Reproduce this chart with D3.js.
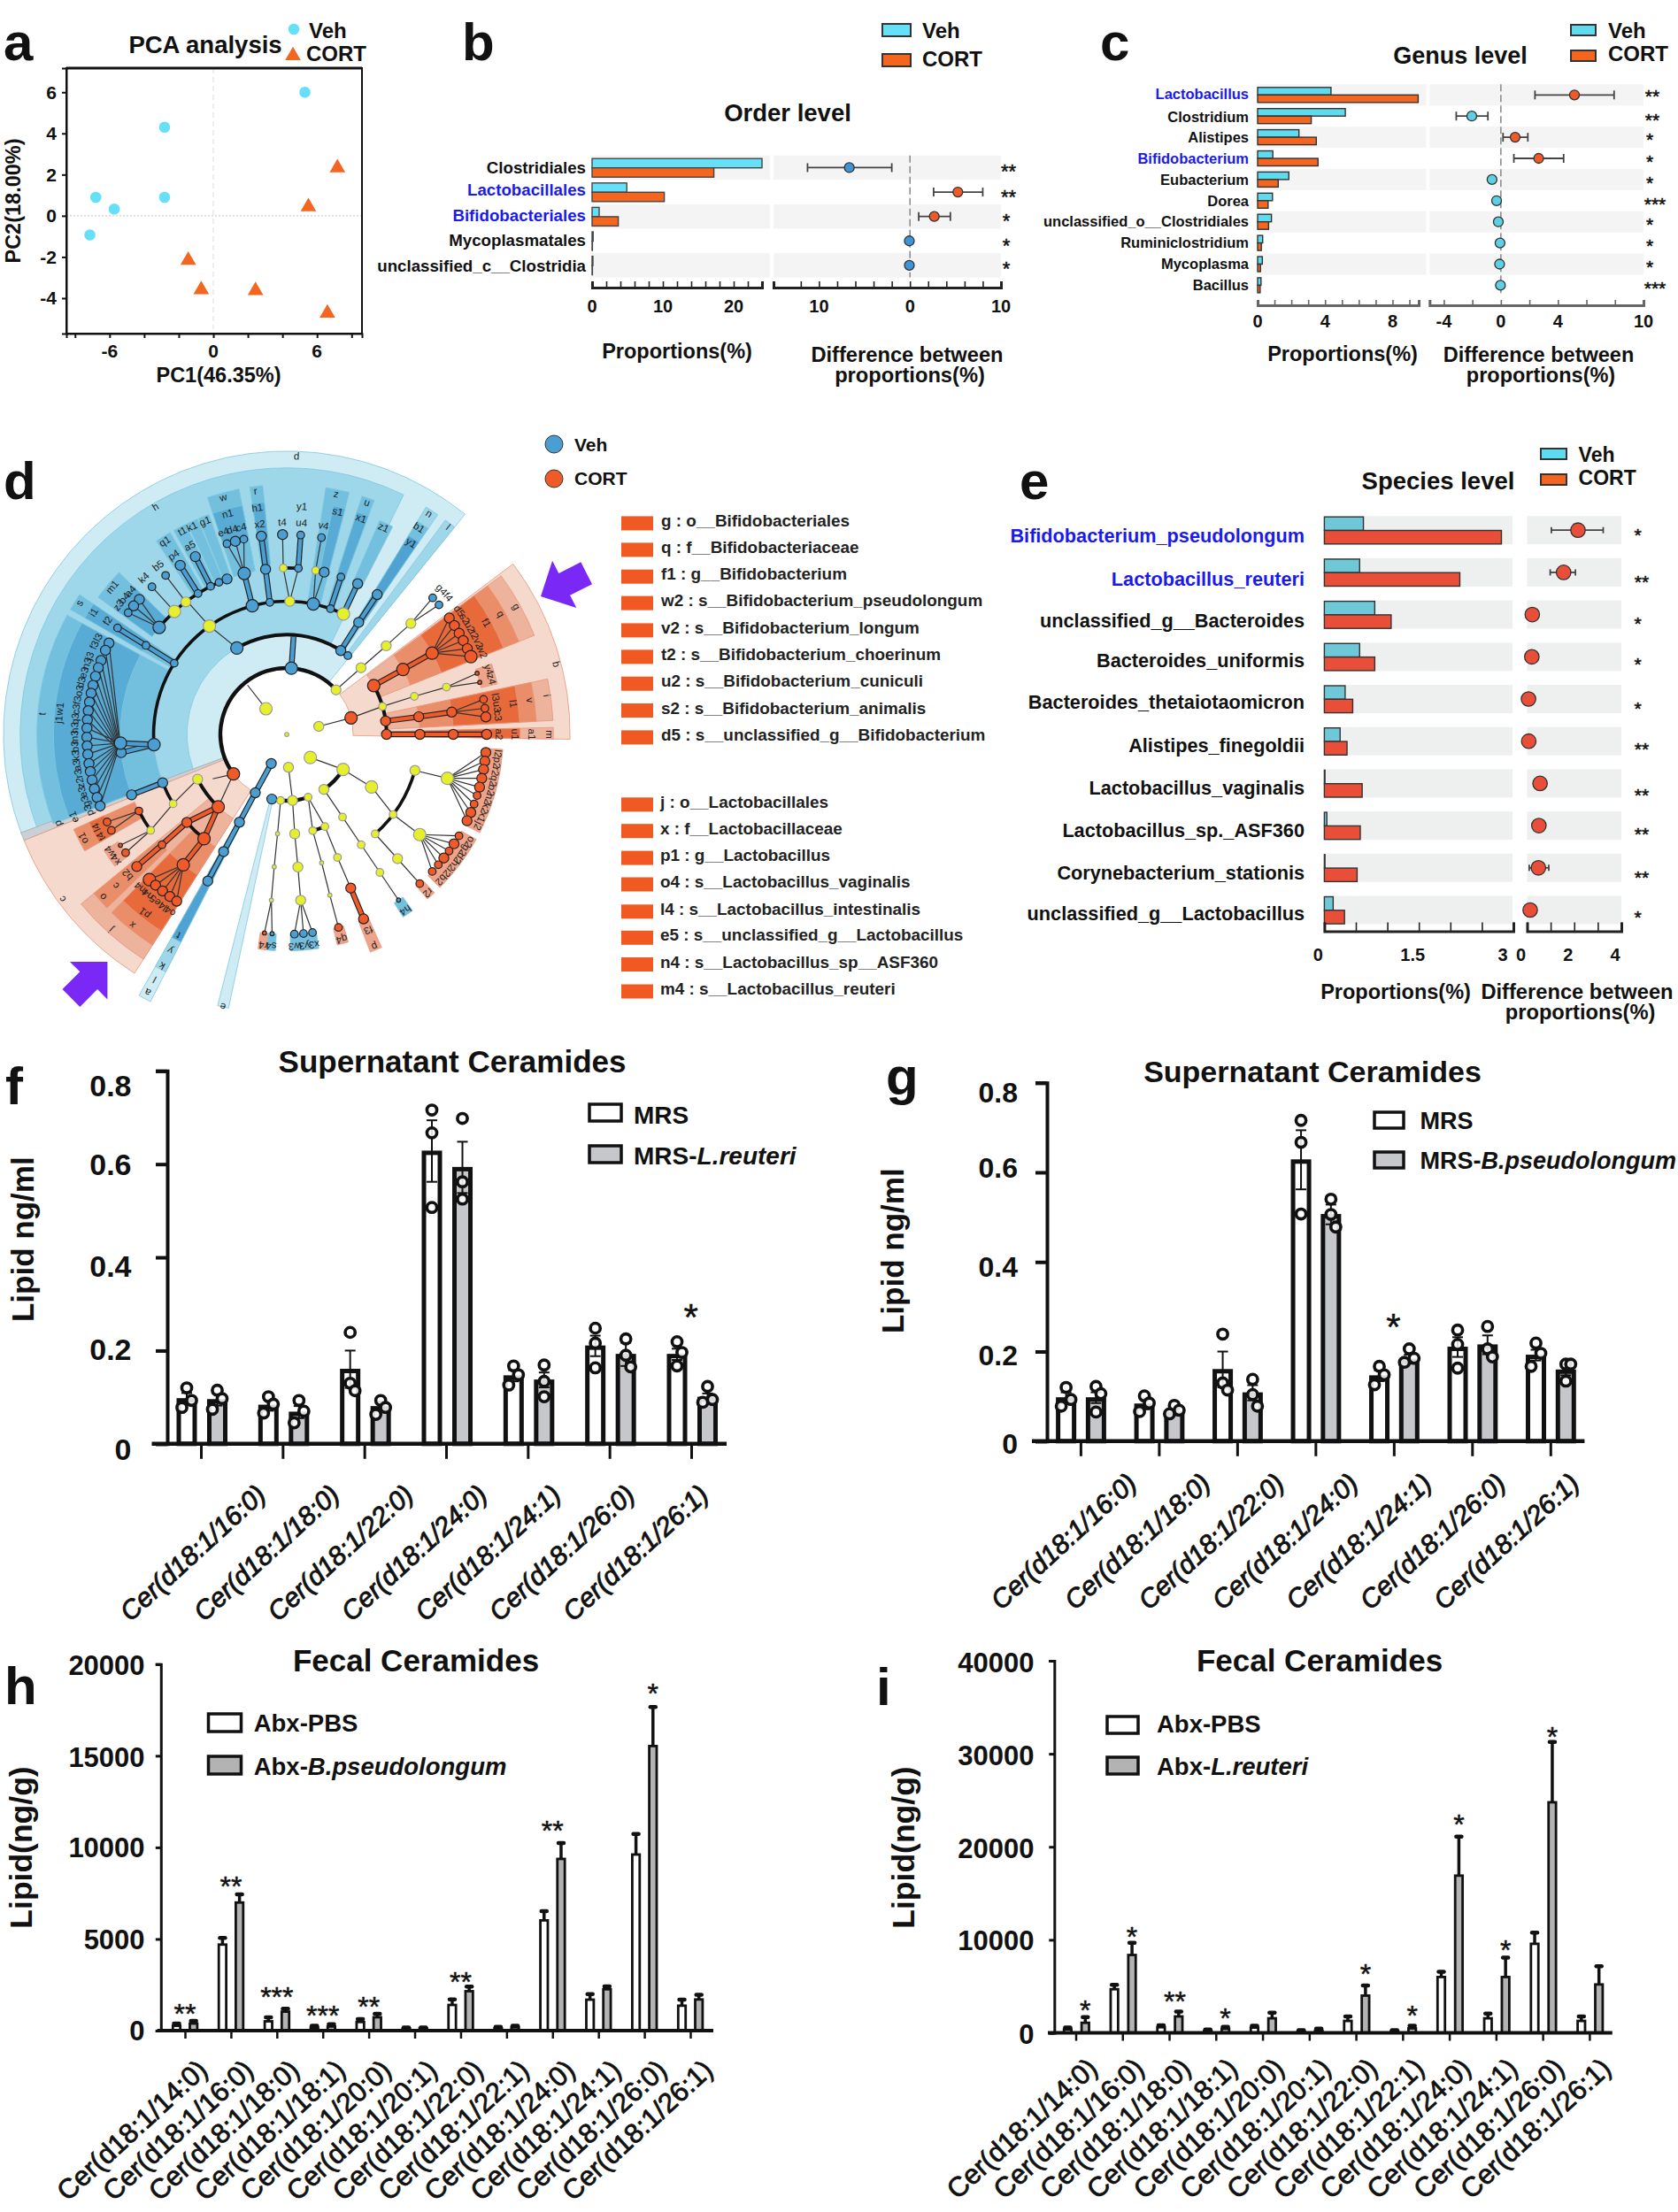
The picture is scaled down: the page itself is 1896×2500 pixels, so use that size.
<!DOCTYPE html>
<html><head><meta charset="utf-8">
<script src="https://cdn.jsdelivr.net/npm/d3@7/dist/d3.min.js"></script>
<style>html,body{margin:0;padding:0;background:#fff}svg{display:block}text{font-family:"Liberation Sans",Arial,sans-serif;font-weight:bold;fill:#111}</style>
</head><body><script>
// ---------- panel a ----------
const pcaVeh = [[5.3,6.0],[-2.82,4.3],[-6.8,0.9],[-2.82,0.9],[-5.73,0.33],[-7.14,-0.93]];
const pcaCort = [[7.18,2.33],[5.5,0.44],[-1.45,-2.16],[-0.7,-3.59],[2.44,-3.63],[6.6,-4.73]];
// ---------- panel b ----------
const orderNames = ["Clostridiales","Lactobacillales","Bifidobacteriales","Mycoplasmatales","unclassified_c__Clostridia"];
const orderVeh = [24,4.9,1.0,0.15,0.12];
const orderCort = [17.2,10.2,3.7,0.05,0.05];
const orderDiff = [-6.67,5.26,2.67,-0.07,-0.07];
const orderLo = [-11.26,2.6,0.96,-0.12,-0.12];
const orderHi = [-2,8,4.44,-0.02,-0.02];
const orderSig = ["**","**","*","*","*"];
const orderBlue = ["Lactobacillales","Bifidobacteriales"];
// ---------- panel c ----------
const genusNames = ["Lactobacillus","Clostridium","Alistipes","Bifidobacterium","Eubacterium","Dorea","unclassified_o__Clostridiales","Ruminiclostridium","Mycoplasma","Bacillus"];
const genusVeh = [4.35,5.2,2.45,0.9,1.85,0.88,0.82,0.3,0.28,0.2];
const genusCort = [9.52,3.18,3.48,3.58,1.22,0.62,0.65,0.22,0.17,0.15];
const genusDiff = [5.16,-2.04,1.0,2.65,-0.62,-0.3,-0.18,-0.06,-0.09,-0.03];
const genusLo = [2.39,-3.13,0.15,0.91,-0.77,-0.42,-0.28,-0.1,-0.13,-0.06];
const genusHi = [7.94,-0.91,1.89,4.4,-0.47,-0.18,-0.08,-0.02,-0.05,0];
const genusSig = ["**","**","*","*","*","***","*","*","*","***"];
const genusBlue = ["Lactobacillus","Bifidobacterium"];
// ---------- panel e ----------
const speciesNames = ["Bifidobacterium_pseudolongum","Lactobacillus_reuteri","unclassified_g__Bacteroides","Bacteroides_uniformis","Bacteroides_thetaiotaomicron","Alistipes_finegoldii","Lactobacillus_vaginalis","Lactobacillus_sp._ASF360","Corynebacterium_stationis","unclassified_g__Lactobacillus"];
const speciesVeh = [0.62,0.56,0.8,0.56,0.33,0.25,0.01,0.04,0.01,0.14];
const speciesCort = [2.81,2.15,1.06,0.8,0.45,0.36,0.6,0.57,0.52,0.32];
const speciesDiff = [2.16,1.55,0.22,0.2,0.06,0.07,0.55,0.5,0.48,0.13];
const speciesLo = [1.03,0.98,0.2,0.18,0.04,0.05,0.52,0.47,0.09,0.11];
const speciesHi = [3.23,2.05,0.24,0.22,0.08,0.09,0.58,0.53,0.92,0.15];
const speciesSig = ["*","**","*","*","*","**","**","**","**","*"];
const speciesBlue = ["Bifidobacterium_pseudolongum","Lactobacillus_reuteri"];
// ---------- panel d legend ----------
const taxaBifido = ["g : o__Bifidobacteriales","q : f__Bifidobacteriaceae","f1 : g__Bifidobacterium","w2 : s__Bifidobacterium_pseudolongum","v2 : s__Bifidobacterium_longum","t2 : s__Bifidobacterium_choerinum","u2 : s__Bifidobacterium_cuniculi","s2 : s__Bifidobacterium_animalis","d5 : s__unclassified_g__Bifidobacterium"];
const taxaLacto = ["j : o__Lactobacillales","x : f__Lactobacillaceae","p1 : g__Lactobacillus","o4 : s__Lactobacillus_vaginalis","l4 : s__Lactobacillus_intestinalis","e5 : s__unclassified_g__Lactobacillus","n4 : s__Lactobacillus_sp__ASF360","m4 : s__Lactobacillus_reuteri"];
// ---------- panel d cladogram: [shade, angle from, angle to, depth from, depth to] ----------
const cladeWedges = [
["b0",-110.5,39,1,7.5],["b1",-110.5,26,2,7],["g",-112,-110.3,1,7.5],["o0",-147.5,-112,1,7.5],["o0",53,91,1,7.5],
["b2",-111,-61.5,3,6.5],["b3",-111,-61.5,4,6],["b2",-60,-56,3,6.5],["b3",-60,-56,4,6],
["b2",-54,-46,4,6],["b3",-54,-46,4,5.4],["b2",-34,-30,4,6],["b2",-29,-25.7,4,6],["b2",-25.3,-22.5,4,6],["b2",-22.2,-19.5,4,6],
["b2",-18.5,-11,4,6.5],["b3",-18.5,-11,4,6],["b2",-18.5,-11,4,5],
["b2",-8.5,-5.5,4,6.5],["b3",-8.5,-5.5,4,6],["b2",9,14.5,3,6.5],["b3",11.5,14.5,4,6],["b2",17.5,20.5,3,6.5],["b3",17.5,20.5,4,6],["b2",23.5,27,4,6],
["b1",31.5,34.5,2,7],["b2",31.5,34.5,3,6.5],["b4",31.5,34.5,3,6],["b1",36.5,39,2,7],
["o1",53.5,68.2,2,7],["o2",53.5,68.2,3,6.5],["o3",53.5,68.2,4,6],["o4",71,76.5,5,5.5],
["o1",78,87,2,7],["o2",78,87,3,6.5],["o3",78,87,4,6],["o1",88.5,91,2,7],["o3",88.5,91,2,6],
["o4",94,117,5,5.5],["o4",119,135,5,5.5],["o4",137,139.5,5,5.5],["o4",163.5,166.5,5,5.5],["o4",156,159,5,6],["b2",144.5,147.5,5,5.5],
["o4",-174.7,-172.4,5,5.5],["b2",-177,-174.7,5,5.5],["b2",171.5,179,5,5.5],
["o1",-147.5,-129.5,2,7],["o2",-147.5,-135.5,3,6.5],["o3",-147.5,-135.5,4,6],["o2",-134,-129.5,4,6.5],
["o2",-120,-114,4,6],["o3",-120,-114,5,5.5],["o4",-127.5,-122.5,5,5.5],
["b0",-153,-150.5,0,8],["b1",-153,-150.5,0,7],["b4",-153,-150.5,0,6],["b0",-168,-165.7,1,7.4]
];
// [depth, angle from, angle to]
const cladeArcs = [[1,-126.6,47.9],[1,121.9,146],[1,161.2,193],[2,-30,37.8],[2,60.7,90],[2,-136.6,-116.7],[2,157.5,164.9],
[3,-94.4,25.2],[3,105.7,138.4],[3,-131.4,-141.6],[3,-121.4,-111.3],[4,-50,-21],[4,-1.2,4],[4,-117.4,-125.2],[4,10,13]];
// [id, parent, angle, depth, size class, group, link type, label]
const cladeNodes = [
["root",null,0,-0.99,"X","y"],
["a0",null,-39,0,"L","y"],["a0p","a0",-38.5,0.9,"0","y"],["a1",null,76,0,"M","y"],["a2",null,177,0,"M","y"],["a3",null,134.5,0,"L","y"],["a4",null,-152,0,"M","b"],
["B",null,4,1,"L","b"],["C","a1",75.6,1,"L","o"],["D",null,47.9,1,"M","y"],["E",null,-126.6,1,"L","o"],
["F","a3",121.9,1,"L","y"],["G",null,146,1,"M","y"],
["S1","a4",-151.7,1,"M","b","b"],["S2","S1",-151.7,2,"M","b","b"],["S3","S2",-151.7,3,"M","b","b"],["S4","S3",-151.7,4,"M","b","b"],
["H","a2",175,1,"M","y"],["I",null,-167,1,"M","b"],["J",null,-174.7,1,"S","y"],["K",null,161.2,1,"S","y"],
["Bp","B",4,1.95,"0","b","b"],["L2a",null,-30,2,"L","b"],["L2b",null,32.8,2,"M","b"],["L2c",null,37.8,2,"S","b"],
["D2","D",48.1,2,"M","y"],["D3","D2",48.3,3,"M","y"],["D4","D3",48.2,4,"M","y"],["n1","D4",46.9,5,"S","b",0,"g4"],["n2","D4",49.6,5,"S","b",0,"f4"],
["C2a",null,60.7,2,"L","o"],["C2b","C",73.7,2,"S","y"],["C2c",null,82.3,2,"M","o"],["C2d",null,90,2,"M","o"],
["C3a","C2a",60.8,3,"L","o","o"],["C4a","C3a",60.8,4,"L","o","o"],
["n3","C4a",54.4,5,"M","o",0,"d5"],["n4","C4a",57,5,"M","o",0,"s2"],["n5","C4a",59.6,5,"M","o",0,"u2"],["n6","C4a",62,5,"M","o",0,"t2"],["n7","C4a",64.6,5,"M","o",0,"v2"],["n8","C4a",67.1,5,"L","o",0,"w2"],
["C3b","C2b",73.4,3,"S","y"],["C4b","C3b",73.5,4,"S","y"],["n9","C4b",72.2,5,"X","o",0,"y4"],["n10","C4b",74.9,5,"X","o",0,"z4"],
["C3c","C2c",82.4,3,"M","o","o"],["C4c","C3c",82.3,4,"M","o","o"],["n11","C4c",79.9,5,"S","o",0,"l3"],["n12","C4c",82.5,5,"S","o",0,"u3"],["n13","C4c",85,5,"M","o",0,"c3"],
["C3d","C2d",90,3,"M","o","o"],["C4d","C3d",90,4,"M","o","o"],["C5d","C4d",90,5,"M","o","o","a2"],
["L3a",null,-94.4,3,"L","b"],["L3b",null,-57.7,3,"S","b"],["L3c",null,-35.5,3,"L","y"],["L3d",null,-15,3,"L","b"],["L3e",null,-7.3,3,"S","b"],["L3f",null,1.3,3,"M","y"],["L3g",null,11.5,3,"L","b"],["L3h",null,19.2,3,"S","b"],["L3i",null,25.2,3,"L","y"],
["Lz","L3c",-35.5,3,"0","y"],["Lzz","L2a",-35.5,3,"0","y"],
["m3","L2b",32.7,3,"M","b","b"],["m4","m3",32.9,4,"M","b","b"],
["T1","L3a",-96.3,4,"M","b","b"],["T2","L3a",-93,4,"L","b","b"],
["t1","T1",-62.8,5,"M","b",0,"l3"],["t2","T1",-65.1,5,"M","b",0,"f3"],["t3","T1",-68.3,5,"M","b",0,"j3"],["t4","T1",-70.5,5,"M","b",0,"n3"],["t5","T1",-73.1,5,"M","b",0,"e3"],["t6","T1",-75.8,5,"M","b",0,"d3"],["t7","T1",-78.1,5,"M","b",0,"o3"],["t8","T1",-80.7,5,"M","b",0,"f3"],["t9","T1",-83.2,5,"M","b",0,"c3"],["t10","T1",-85.8,5,"M","b",0,"q3"],
["t11","T2",-88.2,5,"M","b",0,"h3"],["t12","T2",-90.8,5,"M","b",0,"m3"],["t13","T2",-93.3,5,"M","b",0,"b3"],["t14","T2",-95.7,5,"M","b",0,"k3"],["t15","T2",-98.4,5,"M","b",0,"a3"],["t16","T2",-100.7,5,"M","b",0,"r3"],["t17","T2",-103.2,5,"M","b",0,"z2"],["t18","T2",-105.8,5,"M","b",0,"e3"],["t19","T2",-108.4,5,"M","b",0,"g3"],["t20","T2",-111,5,"M","b",0,"p3"],
["s4","L3b",-57.7,4,"S","b","b"],["s5","s4",-57.8,5,"S","b","b"],
["L4a",null,-37.3,4,"M","y"],["L4b",null,-42.4,4,"L","y"],["L4c",null,-50,4,"L","b"],["L4d",null,-32.2,4,"S","b"],["L4e",null,-27.2,4,"S","b"],["L4f",null,-24,4,"S","b"],["L4g",null,-21,4,"M","b"],["Lq","L3c",-36.8,4,"0","y"],
["u1","L4b",-42.4,5,"S","b",0,"k4"],["u2","L4a",-37.3,5,"S","b",0,"b5"],["u3","L4d",-32.2,5,"M","b","b","p4"],["u4","L4e",-27.2,5,"M","b","b","a5"],
["u5","L4c",-47.5,5,"M","b",0,"a4"],["u6","L4c",-50,5,"M","b",0,"b4"],["u7","L4c",-52.5,5,"S","b",0,"z3"],
["w0","L3d",-14.8,4,"L","b","b"],["w1","w0",-17.4,5,"S","b",0,"e4"],["w2","w0",-14.9,5,"M","b",0,"d4"],["w3","w0",-12.4,5,"S","b",0,"c4"],
["x0","L3e",-7.3,4,"M","b","b"],["x1","x0",-7.3,5,"M","b","b","x2"],
["y0","L3f",-1.2,4,"S","y"],["y2","L3f",4,4,"S","b"],["y3","y0",-1.2,5,"M","b",0,"t4"],["y4","y2",4,5,"S","b","b","u4"],
["z0","L3g",10,4,"S","y"],["z2","L3g",13,4,"M","b"],["z3","z0",10,5,"S","b",0,"v4"],
["v1","L3h",19,4,"S","b","b"],["v2","L3i",25.2,4,"M","b","b"],
["p0","L3b",-57.7,3,"0","b"],
["lb1",null,-111.3,3,"M","b"],["lb2","lb1",-111.3,4,"M","b","b"],["ly1",null,-121.4,3,"S","y"],["ly2","ly1",-125.2,4,"S","y"],["ly0",null,-116.7,2,"M","y"],["ly0p","E",-121,1.6,"0","y"],["ly00","ly0",-121.4,3,"0","y"],
["E2","E",-136.6,2,"L","o"],["E3a","E2",-131.4,3,"M","o","o"],["E3b","E2",-141.6,3,"L","o","o"],["E4a","E3a",-131.5,4,"S","o","o"],["E5a","E4a",-131.4,5,"M","o","o","b2"],
["E4b","E3b",-141.6,4,"L","o","o"],
["e1","E4b",-136.6,5,"L","o",0,"m4"],["e2","E4b",-139,5,"M","o",0,"n4"],["e3","E4b",-141.6,5,"M","o",0,"e5"],["e4","E4b",-144.2,5,"M","o",0,"l4"],["e5","E4b",-146.6,5,"M","o",0,"o4"],
["o4x",null,-117.4,4,"S","o"],["o1x","o4x",-116,5,"S","o",0,"l4"],["o2x","o4x",-118.7,5,"S","o",0,"t4"],["o3x","ly2",-126.3,5,"S","o",0,"x4"],["o5x","ly2",-123.7,5,"X","o",0,"w4"],
["F2","F",121.8,2,"L","y"],["F3a","F2",127,3,"S","y"],["F3b",null,105.7,3,"M","y"],["F3c",null,138.4,3,"S","y"],
["F4a","F3b",105.3,4,"L","y"],
["g1","F4a",95.2,5,"M","o",0,"l2"],["g2","F4a",97.7,5,"M","o",0,"p2"],["g3","F4a",100.1,5,"M","o",0,"r2"],["g4","F4a",102.7,5,"M","o",0,"q2"],["g5","F4a",105.3,5,"M","o",0,"o2"],["g6","F4a",107.8,5,"S","o",0,"n2"],["g7","F4a",110.4,5,"S","o",0,"k2"],["g8","F4a",113,5,"M","o",0,"x1"],["g9","F4a",115.6,5,"M","o",0,"j2"],
["F4b","F3a",127,4,"L","y"],
["h1","F4b",120.5,5,"S","o",0,"o2"],["h2","F4b",123.2,5,"M","o",0,"g2"],["h3","F4b",125.7,5,"S","o",0,"d2"],["h4","F4b",128.2,5,"M","o",0,"h2"],["h5","F4b",130.7,5,"S","o",0,"i2"],["h6","F4b",133.3,5,"S","o",0,"b2"],
["F4c","F3c",138.3,4,"M","y"],["F5c","F4c",138.3,5,"S","o",0,"r2"],
["G2","G",146,2,"S","y"],["G3","G2",146,3,"S","y"],["G4","G3",146,4,"S","y"],["G5","G4",146,5,"X","b",0,"h4"],
["J2","J",-174.7,2,"X","y"],["J3","J2",-174.6,3,"X","y"],["J4","J3",-174.7,4,"X","y"],["J5","J4",-173.6,5,"X","o",0,"r4"],["J6","J4",-175.8,5,"X","b",0,"s4"],
["H2","H",175.4,2,"M","y"],["H3","H2",175.2,3,"M","y"],["H4","H3",175.2,4,"M","y"],["H5","H4",177.8,5,"S","b",0,"w3"],["H6","H4",175.2,5,"S","b",0,"y3"],["H7","H4",172.6,5,"S","b",0,"x3"],
["K2","K",164.9,2,"S","y"],["K2b","K",157.5,2,"S","y"],["K3","K2",164.8,3,"X","y"],["K4","K3",165,4,"X","y"],["K5","K4",165,5,"S","o",0,"q4"],
["K3b","K2b",157.6,3,"S","y"],["K4b","K3b",157.4,4,"M","o"],["K5b","K4b",157.4,5,"M","o","o","f3"]
];
// [text, angle, depth]
const cladeLabels = [["d",2,7.36],["h",-30,6.89],["b",75.4,7.36],["c",-126.3,7.36],["g",60.9,6.89],["q",60.6,6.37],["f1",60.8,5.86],
["t",-85.2,6.37],["j1",-86.3,5.86],["w1",-83.6,5.86],["p",-111.3,6.37],["e1",-111.2,5.86],["s",-57.6,6.37],["i1",-57.7,5.86],["f2",-57.6,5.37],["m1",-49.8,5.86],
["q1",-32.3,5.86],["t1",-27.2,5.86],["k1",-24.5,5.86],["g1",-21,5.86],["w",-15,6.37],["n1",-15,5.86],["r",-7.3,6.37],["h1",-7.4,5.86],["y1",3.8,5.86],
["z",11.6,6.37],["s1",12.9,5.86],["u",19.1,6.37],["x1",19,5.86],["z1",25.1,5.86],["n",32.8,6.89],["b1",32.6,6.37],["y1",33,5.86],["l",37.9,6.89],
["i",81.5,6.89],["v",82,6.37],["l1",82.3,5.86],["m",90,6.89],["a1",90,6.37],["u1",90,5.86],["j",-138,6.89],["x",-141,6.37],["p1",-141.5,5.86],["o",-131.5,6.37],["c",-131.5,5.86],["o1",-117,5.86],
["p",157.5,5.9],["t",-151.7,5.86],["y",-151.7,6.37],["k",-151.7,6.89],["l",-151.7,7.36],["a",-151.7,7.8],["e",-166.8,7.4]];
// ---------- panels f,g ----------
const cerSup = ["Cer(d18:1/16:0)","Cer(d18:1/18:0)","Cer(d18:1/22:0)","Cer(d18:1/24:0)","Cer(d18:1/24:1)","Cer(d18:1/26:0)","Cer(d18:1/26:1)"];
const mrsMean = [0.097,0.083,0.16,0.628,0.146,0.21,0.192];
const mrsSem = [0.012,0.012,0.04,0.066,0.012,0.022,0.012];
const mrsPoints = [[0.12,0.093,0.078],[0.101,0.085,0.066],[0.239,0.13,0.114],[0.716,0.667,0.507],[0.167,0.148,0.126],[0.248,0.216,0.163],[0.219,0.196,0.167]];
const reuMean = [0.095,0.068,0.08,0.593,0.137,0.192,0.1];
const reuSem = [0.013,0.013,0.01,0.055,0.016,0.025,0.008];
const reuPoints = [[0.115,0.097,0.074],[0.093,0.07,0.045],[0.093,0.078,0.063],[0.698,0.562,0.525],[0.169,0.134,0.101],[0.225,0.19,0.165],[0.123,0.095,0.089]];
const bpsMean = [0.097,0.065,0.108,0.506,0.183,0.215,0.159];
const bpsSem = [0.012,0.006,0.017,0.022,0.01,0.021,0.012];
const bpsPoints = [[0.122,0.106,0.065],[0.08,0.069,0.061],[0.138,0.104,0.078],[0.54,0.506,0.478],[0.206,0.185,0.176],[0.256,0.206,0.188],[0.172,0.172,0.134]];
// ---------- panels h,i ----------
const cerFecal = ["Cer(d18:1/14:0)","Cer(d18:1/16:0)","Cer(d18:1/18:0)","Cer(d18:1/18:1)","Cer(d18:1/20:0)","Cer(d18:1/20:1)","Cer(d18:1/22:0)","Cer(d18:1/22:1)","Cer(d18:1/24:0)","Cer(d18:1/24:1)","Cer(d18:1/26:0)","Cer(d18:1/26:1)"];
const hPbsMean = [264,4695,508,165,470,100,1400,120,6015,1690,9610,1360];
const hPbsTop = [386,5060,730,265,630,165,1700,200,6520,1990,10730,1690];
const hBpsMean = [386,6990,1035,224,730,120,2150,180,9370,2255,15530,1700];
const hBpsTop = [530,7440,1200,345,915,165,2400,265,10240,2420,17660,1950];
const hStars = [[0,"**",1340,0],[1,"**",8313,0],[2,"***",2256,0],[3,"***",1240,0],[4,"**",1748,0],[6,"**",3110,0],[8,"**",11362,0],[10,"*",18820,1]];
const iPbsMean = [360,4685,600,200,560,120,1280,160,6000,1560,9570,1280];
const iPbsTop = [560,5165,800,360,760,280,1760,280,6570,2080,10770,1760];
const iReuMean = [1080,8370,1760,440,1560,240,4000,480,16900,6000,24785,5200];
const iReuTop = [1680,9690,2280,640,2160,440,5085,760,21100,8090,31270,7170];
const iStars = [[0,"*",3283,1],[1,"*",11171,1],[2,"**",4284,0.6],[3,"*",2482,1],[6,"*",7167,1],[7,"*",2683,1],[8,"*",23303,1],[9,"*",9770,1],[10,"*",32713,1]];

const svg = d3.select("body").append("svg").attr("width",1896).attr("height",2500);
function T(x,y,s,size,o={}){
  const t = svg.append("text").attr("x",x).attr("y",y).attr("dy",o.dy||".35em").attr("font-size",size)
    .attr("text-anchor",o.anchor||"middle").attr("fill",o.fill||"#111").style("fill",o.fill||"#111");
  if(o.weight) t.style("font-weight",o.weight);
  if(o.italic) t.style("font-style","italic");
  if(o.rot!==undefined) t.attr("transform",`rotate(${o.rot},${x},${y})`);
  if(o.stroke) t.style("stroke",o.fill||"#111").style("stroke-width",o.stroke);
  t.text(s); return t;
}
function letter(x,y,s){T(x,y,s,60,{anchor:"start",dy:0});}
function star(x,y,s,size){T(x,y+size*0.28,s,size,{weight:"normal",dy:0,stroke:.5});}
function rich(x,y,a,b,size){const t=T(x,y,a,size,{anchor:"start"});t.append("tspan").style("font-style","italic").text(b);}

// ========== a ==========
(function(){
  const x=d3.scaleLinear().domain([-8.5,8.6]).range([75,409]), y=d3.scaleLinear().domain([-5.72,7.17]).range([377,77]);
  const g=svg.append("g");
  g.append("line").attr("x1",x(0)).attr("x2",x(0)).attr("y1",77).attr("y2",372).attr("stroke","#ddd").attr("stroke-dasharray","6 4");
  g.append("line").attr("x1",75).attr("x2",409).attr("y1",y(0)).attr("y2",y(0)).attr("stroke","#ddd").attr("stroke-width",2).attr("stroke-dasharray","2 2");
  g.append("rect").attr("x",75).attr("y",77).attr("width",334).attr("height",300).attr("fill","none").attr("stroke","#111").attr("stroke-width",2);
  g.append("line").attr("x1",75).attr("x2",409).attr("y1",77).attr("y2",77).attr("stroke","#111").attr("stroke-width",3);
  const ax=g.append("g").attr("transform","translate(0,377)").call(d3.axisBottom(x).tickValues([-8,-6,-4,-2,0,2,4,6,8]).tickSize(5).tickFormat(""));
  ax.selectAll("path,line").attr("stroke","#111").attr("stroke-width",2);
  const ay=g.append("g").attr("transform","translate(75,0)").call(d3.axisLeft(y).tickValues([-4,-2,0,2,4,6]).tickSize(5).tickFormat(""));
  ay.selectAll("path,line").attr("stroke","#111").attr("stroke-width",2);
  [-4,-2,0,2,4,6].forEach(v=>T(64,y(v),v,21,{anchor:"end"}));
  [-6,0,6].forEach(v=>T(x(v),397,v,21));
  g.selectAll("circle.p").data(pcaVeh).join("circle").attr("cx",d=>x(d[0])).attr("cy",d=>y(d[1])).attr("r",6.3).attr("fill","#66e0f7");
  const tri=d3.symbol(d3.symbolTriangle,135);
  g.selectAll("path.t").data(pcaCort).join("path").attr("d",tri).attr("transform",d=>`translate(${x(d[0])},${y(d[1])})`).attr("fill","#f4661f");
  g.append("circle").attr("cx",332).attr("cy",33).attr("r",6.3).attr("fill","#66e0f7");
  g.append("path").attr("d",tri).attr("transform","translate(331,63)").attr("fill","#f4661f");
  T(349,35,"Veh",24,{anchor:"start"});T(346,61,"CORT",24,{anchor:"start"});
  T(232,50,"PCA analysis",27.5);
  T(247,424,"PC1(46.35%)",23.5);
  T(15,227,"PC2(18.00%)",23.5,{rot:-90});
  letter(4,47,"a");
})();

// ========== b, c, e ==========
function stamp(c){
  const barX=d3.scaleLinear().domain(c.barDomain).range(c.barRange);
  const difX=d3.scaleLinear().domain(c.difDomain).range(c.difRange);
  const rows=d3.scaleBand().domain(c.names).range([c.top,c.top+c.step*c.names.length]);
  const g=svg.append("g");
  c.names.forEach((n,i)=>{
    if(c.everyBand||i%2===c.bandOdd){
      g.append("rect").attr("x",c.barRange[0]).attr("y",rows(n)).attr("width",c.bandL-c.barRange[0]).attr("height",c.bandH).attr("fill",c.bandFill);
      g.append("rect").attr("x",c.difRange[0]).attr("y",rows(n)).attr("width",c.difRange[1]-c.difRange[0]).attr("height",c.bandH).attr("fill",c.bandFill);
    }
  });
  const barH=c.barH;
  g.selectAll("rect.v").data(c.names).join("rect").attr("x",barX(0)).attr("y",(d,i)=>rows(d)+c.barPad).attr("height",barH).attr("width",(d,i)=>barX(c.veh[i])-barX(0)).attr("fill",c.vehC).attr("stroke",c.barStroke).attr("stroke-width",1.4);
  g.selectAll("rect.c").data(c.names).join("rect").attr("x",barX(0)).attr("y",(d,i)=>rows(d)+c.barPad+barH).attr("height",barH).attr("width",(d,i)=>barX(c.cort[i])-barX(0)).attr("fill",c.cortC).attr("stroke",c.barStroke).attr("stroke-width",1.4);
  if(c.zeroLine) g.append("line").attr("x1",difX(0)).attr("x2",difX(0)).attr("y1",c.top).attr("y2",c.top+c.step*c.names.length-(c.step-c.bandH)).attr("stroke","#888").attr("stroke-width",1.5).attr("stroke-dasharray","8 4");
  c.names.forEach((n,i)=>{
    const y=rows(n)+c.bandH/2+(c.pointDy||0);
    g.append("line").attr("x1",difX(c.lo[i])).attr("x2",difX(c.hi[i])).attr("y1",y).attr("y2",y).attr("stroke","#444").attr("stroke-width",1.8);
    [c.lo[i],c.hi[i]].forEach(v=>g.append("line").attr("x1",difX(v)).attr("x2",difX(v)).attr("y1",y-c.cap).attr("y2",y+c.cap).attr("stroke","#444").attr("stroke-width",1.8));
    const col=c.pointFill(c.diff[i]);
    g.append("circle").attr("cx",difX(c.diff[i])).attr("cy",y).attr("r",c.pointR).attr("fill",col).attr("stroke","#333").attr("stroke-width",1.3);
    const blue=c.blue.includes(n);
    T(c.labelX,c.labelY[i],n,c.labelSize,{anchor:"end",fill:blue?"#1a1aee":"#111"});
    const s=c.sig[i];
    star(c.starX+(s.length-1)*c.starStep,c.starY[i],s,c.starSize);
  });
  [[barX,c.barTicks],[difX,c.difTicks]].forEach(([sc,tk])=>{
    const a=g.append("g").attr("transform",`translate(0,${c.axisY})`).call(d3.axisTop(sc).tickValues(tk).tickSize(c.tickH).tickFormat(""));
    a.selectAll("path,line").attr("stroke",c.axisC).attr("stroke-width",1.6);
    a.select("path").attr("stroke-width",3);
  });
  c.barLabels.forEach(v=>T(barX(v)+(c.barLabelDx?c.barLabelDx(v):0),c.tickLabelY,v,c.tickSize));
  c.difLabels.forEach(v=>T(difX(v)+(c.difLabelDx||0),c.tickLabelY,c.difFormat?c.difFormat(v):v,c.tickSize));
}
stamp({names:orderNames,veh:orderVeh,cort:orderCort,diff:orderDiff,lo:orderLo,hi:orderHi,sig:orderSig,blue:orderBlue,
  barDomain:[0,24],barRange:[669,861],difDomain:[-15,10],difRange:[874,1131],top:175.7,step:27.6,bandH:27.5,bandL:870,bandOdd:0,bandFill:"#f4f4f4",
  barPad:3.5,barH:10.5,vehC:"#66e0f7",cortC:"#f4661f",barStroke:"#444",zeroLine:true,cap:5,pointR:5.5,pointFill:v=>v>0.01?"#ef5a28":"#3f94d6",
  labelX:662,labelY:[189,214,243,271,300],labelSize:18.7,starX:1137,starStep:2.5,starY:[187,216,243,271,297],starSize:22,
  barTicks:[0,2,4,6,8,10,12,14,16,18,20,22,24],difTicks:[-15,-12,-10,-8,-6,-4,-2,0,2,4,6,8,10],axisY:325,tickH:7,axisC:"#222",
  barLabels:[0,10,20],difLabels:[-10,0,10],difFormat:v=>Math.abs(v),tickLabelY:346,tickSize:20});
T(890,127,"Order level",27.5);T(765,397,"Proportions(%)",23.5);T(1025,401,"Difference between",23.7);T(1028,424,"proportions(%)",23.7);
svg.append("rect").attr("x",997).attr("y",27).attr("width",32).attr("height",14).attr("fill","#66e0f7").attr("stroke","#333").attr("stroke-width",2);
svg.append("rect").attr("x",997).attr("y",61).attr("width",32).attr("height",14).attr("fill","#f4661f").attr("stroke","#333").attr("stroke-width",2);
T(1042,35,"Veh",24,{anchor:"start"});T(1042,67,"CORT",24,{anchor:"start"});
letter(522,47,"b");

stamp({names:genusNames,veh:genusVeh,cort:genusCort,diff:genusDiff,lo:genusLo,hi:genusHi,sig:genusSig,blue:genusBlue,
  barDomain:[0,9.55],barRange:[1421,1603],difDomain:[-5,10],difRange:[1615.3,1857],top:95.3,step:23.9,bandH:24,bandL:1611.5,bandOdd:0,bandFill:"#f4f4f4",
  barPad:3.5,barH:8.5,vehC:"#5fdbf0",cortC:"#f4661f",barStroke:"#333",zeroLine:true,cap:5,pointR:5.5,pointFill:v=>v>0.5?"#ef5a28":"#5ed0e6",
  labelX:1411,labelY:[106,132,155,179,203,227,250,274,298,322],labelSize:16.5,starX:1864,starStep:3,starY:[103,130,152,177,201,225,248,272,296,320],starSize:21,
  barTicks:[0,1,2,3,4,5,6,7,8,9,9.55],difTicks:[-5,-4,-2,0,2,4,6,8,10],axisY:345,tickH:6,axisC:"#666",
  barLabels:[0,4,8],difLabels:[-4,0,4,10],tickLabelY:363,tickSize:20});
T(1650,63,"Genus level",27);T(1517,400,"Proportions(%)",23.5);T(1738.5,401,"Difference between",23.5);T(1741,424,"proportions(%)",23.5);
svg.append("rect").attr("x",1775).attr("y",28).attr("width",28).attr("height",12).attr("fill","#5fdbf0").attr("stroke","#333").attr("stroke-width",2);
svg.append("rect").attr("x",1775).attr("y",57).attr("width",28).attr("height",12).attr("fill","#f4661f").attr("stroke","#333").attr("stroke-width",2);
T(1817,35,"Veh",24,{anchor:"start"});T(1817,61,"CORT",24,{anchor:"start"});
letter(1243,47,"c");

stamp({names:speciesNames,veh:speciesVeh,cort:speciesCort,diff:speciesDiff,lo:speciesLo,hi:speciesHi,sig:speciesSig,blue:speciesBlue,
  barDomain:[0,3],barRange:[1496.4,1710],difDomain:[0,4],difRange:[1725.5,1832],top:583.2,step:47.7,bandH:32,bandL:1709,everyBand:true,bandFill:"#eef0ef",
  barPad:1,barH:15.3,vehC:"#6fc8d8",cortC:"#e84e38",barStroke:"#333",zeroLine:false,cap:3.5,pointR:8.2,pointFill:v=>"#e84e38",
  labelX:1474,labelY:[605,654,701,746,793.5,842.5,890.7,938.8,986.5,1032.5],labelSize:21.7,starX:1850.5,starStep:4.5,starY:[599,652,699,745,795,841,893,937,986,1031],starSize:21,
  barTicks:[0,.5,1,1.5,2,2.5,3],difTicks:[0,1,2,3,4],axisY:1052.5,tickH:10,axisC:"#222",
  barLabels:[0,1.5,3],barLabelDx:v=>v===3?-12:-7,difLabels:[0,2,4],difLabelDx:-7,tickLabelY:1079,tickSize:20});
T(1625,543,"Species level",27.5);T(1577,1120.5,"Proportions(%)",23.5);T(1782,1120.5,"Difference between",23.7);T(1785.6,1143.5,"proportions(%)",23.7);
svg.append("rect").attr("x",1741).attr("y",507).attr("width",29).attr("height",12).attr("fill","#5fdbf0").attr("stroke","#333").attr("stroke-width",2);
svg.append("rect").attr("x",1741).attr("y",536).attr("width",29).attr("height",12).attr("fill","#f4661f").attr("stroke","#333").attr("stroke-width",2);
T(1783.6,514,"Veh",23,{anchor:"start"});T(1783.6,540,"CORT",23,{anchor:"start"});
letter(1152,543,"e");

// ========== d ==========
(function(){
  const cx=324, cy=830;
  const g=svg.append("g").attr("transform",`translate(${cx},${cy})`);
  const R=d3.scaleLinear().domain([0,8]).range([37.3,339]);
  const A=d3.scaleLinear().domain([0,180]).range([0,Math.PI]);
  const shades={b0:"#cfecf5",b1:"#9dd7e9",b2:"#72bfde",b3:"#57abd5",b4:"#4fa2d2",o0:"#f5d9cd",o1:"#eeb39d",o2:"#ea8e6a",o3:"#e86a3b",o4:"#eda48a",g:"#c9d1d6"};
  const edge=s=>s[0]==="o"?"#e9967a":(s[0]==="b"?"#7fc8e0":"#aaa");
  const arc=d3.arc();
  g.selectAll("path.w").data(cladeWedges).join("path")
    .attr("d",d=>arc({innerRadius:R(d[3]),outerRadius:R(d[4]),startAngle:A(d[1]),endAngle:A(d[2])}))
    .attr("fill",d=>shades[d[0]]).attr("stroke",d=>edge(d[0])).attr("stroke-width",.8);
  const byId=new Map(cladeNodes.map(n=>[n[0],n]));
  const pos=n=>d3.pointRadial(A(n[2]),R(n[3]));
  cladeNodes.forEach(n=>{
    if(!n[1]) return;
    const a=pos(byId.get(n[1])), b=pos(n), kind=n[6];
    if(kind==="b"||kind==="o"){
      g.append("line").attr("x1",a[0]).attr("y1",a[1]).attr("x2",b[0]).attr("y2",b[1]).attr("stroke","#222").attr("stroke-width",6.5);
      g.append("line").attr("x1",a[0]).attr("y1",a[1]).attr("x2",b[0]).attr("y2",b[1]).attr("stroke",kind==="b"?"#4a9ed1":"#ef5a28").attr("stroke-width",4.2);
    } else {
      g.append("line").attr("x1",a[0]).attr("y1",a[1]).attr("x2",b[0]).attr("y2",b[1]).attr("stroke","#333").attr("stroke-width",1.2);
    }
  });
  g.selectAll("path.k").data(cladeArcs).join("path").attr("d",d=>{
    const r=R(d[0]), w=d[0]<=1?2.2:(d[0]===2?2:1.8);
    return arc({innerRadius:r-w,outerRadius:r+w,startAngle:A(Math.min(d[1],d[2])),endAngle:A(Math.max(d[1],d[2]))});
  }).attr("fill","#111");
  const size={L:7,M:5.6,S:4.3,X:2.3,"0":0};
  const col={b:"#4a9ed1",o:"#ef5a28",y:"#e6f02a"};
  g.selectAll("circle.n").data(cladeNodes.filter(n=>size[n[4]]>0)).join("circle")
    .attr("cx",d=>pos(d)[0]).attr("cy",d=>pos(d)[1]).attr("r",d=>size[d[4]])
    .attr("fill",d=>col[d[5]]).attr("stroke",d=>d[5]==="y"?"#999":"#222").attr("stroke-width",1.2);
  const lab=(t,th,dp)=>{
    const p=d3.pointRadial(A(th),R(dp));
    g.append("text").attr("transform",`translate(${p[0]},${p[1]}) rotate(${th})`).attr("text-anchor","middle").attr("dy",".35em").attr("font-size",11.5).style("font-weight","normal").style("fill","#222").text(t);
  };
  cladeNodes.forEach(n=>{ if(n[7]) lab(n[7],n[2],5.37); });
  cladeLabels.forEach(l=>lab(l[0],l[1],l[2]));
})();
// purple arrows
const arrowShape=[[0,0],[30,-30],[14,-30],[14,-58],[-14,-58],[-14,-30],[-30,-30]];
const arrowLine=d3.line();
svg.append("path").attr("d",arrowLine(arrowShape)+"Z").attr("transform","translate(611,674) rotate(63)").attr("fill","#7a28f5");
svg.append("path").attr("d",arrowLine(arrowShape)+"Z").attr("transform","translate(121.4,1087) rotate(225)").attr("fill","#7a28f5");
svg.append("circle").attr("cx",626).attr("cy",502).attr("r",10).attr("fill","#4a9ed1").attr("stroke","#333").attr("stroke-width",1);
svg.append("circle").attr("cx",626).attr("cy",541).attr("r",10).attr("fill","#ef5a28").attr("stroke","#333").attr("stroke-width",1);
T(649,502.5,"Veh",21,{anchor:"start"});T(649,541,"CORT",21,{anchor:"start"});
letter(4,543,"d");
const taxaY1=[591.4,621.4,651.7,681.6,712.4,742.4,772.7,803,833.4], taxaY2=[909.3,939.2,969.6,999.5,1030.3,1059.8,1090,1120.5];
taxaBifido.forEach((s,i)=>{svg.append("rect").attr("x",702).attr("y",taxaY1[i]-8).attr("width",36).attr("height",16).attr("fill","#f05a22");T(747,taxaY1[i]-3,s,18.9,{anchor:"start",fill:"#222"});});
taxaLacto.forEach((s,i)=>{svg.append("rect").attr("x",702).attr("y",taxaY2[i]-8).attr("width",36).attr("height",16).attr("fill","#f05a22");T(746,taxaY2[i]-3,s,18.9,{anchor:"start",fill:"#222"});});

// ========== f,g ==========
function scatterBars(c){
  const g=svg.append("g");
  const y=d3.scaleLinear().domain([0,0.8]).range([c.y0,c.yTop]);
  const x=d3.scalePoint().domain(cerSup).range([c.tickX0,c.tickX1]);
  const xLab=d3.scalePoint().domain(cerSup).range([c.labEnd0,c.labEnd0+c.labStep*6]);
  const yA=g.append("g").attr("transform",`translate(${c.axisX},0)`).call(d3.axisLeft(y).tickValues([0,.2,.4,.6,.8]).tickSize(c.tickLen).tickFormat(""));
  yA.selectAll("path,line").attr("stroke","#111").attr("stroke-width",4);
  cerSup.forEach((n,i)=>{
    [[c.mean1,c.sem1,c.pts1,c.off[0],"#fff"],[c.mean2,c.sem2,c.pts2,c.off[1],"#c5c7ca"]].forEach(([m,s,p,o,f])=>{
      const bx=x(n)+o;
      g.append("rect").attr("x",bx-9).attr("width",18).attr("y",y(m[i])+2).attr("height",y(0)-y(m[i])-2).attr("fill",f).attr("stroke","#111").attr("stroke-width",5);
      g.append("line").attr("x1",bx).attr("x2",bx).attr("y1",y(m[i]-s[i])).attr("y2",y(m[i]+s[i])).attr("stroke","#111").attr("stroke-width",2);
      g.append("line").attr("x1",bx-6).attr("x2",bx+6).attr("y1",y(m[i]+s[i])).attr("y2",y(m[i]+s[i])).attr("stroke","#111").attr("stroke-width",2);
      g.append("line").attr("x1",bx-6).attr("x2",bx+6).attr("y1",y(m[i]-s[i])).attr("y2",y(m[i]-s[i])).attr("stroke","#111").attr("stroke-width",2);
      let side=1, last=null;
      p[i].forEach(v=>{
        let dx=0;
        if(last!==null && Math.abs(y(v)-y(last))<15){dx=5.5*side;side=-side;}
        last=v;
        g.append("circle").attr("cx",bx+dx).attr("cy",y(v)).attr("r",5.6).attr("fill","#fff").attr("fill-opacity",.85).attr("stroke","#111").attr("stroke-width",3.6);
      });
    });
  });
  g.append("line").attr("x1",c.xL).attr("x2",c.xR).attr("y1",y(0)).attr("y2",y(0)).attr("stroke","#111").attr("stroke-width",4.5);
  const xA=g.append("g").attr("transform",`translate(0,${c.y0})`).call(d3.axisBottom(x).tickSize(c.xTick).tickFormat(""));
  xA.select("path").remove(); xA.selectAll("line").attr("stroke","#111").attr("stroke-width",3);
  [0,.2,.4,.6,.8].forEach((v,i)=>T(c.labR,c.labY[i],v,c.labSize,{anchor:"end"}));
  cerSup.forEach(n=>T(xLab(n),c.xlabY,n,c.xlabSize,{anchor:"end",rot:-42.5,italic:true,weight:"normal",stroke:.9,dy:0}));
  return {x,y};
}
scatterBars({y0:1631.8,yTop:1210.3,axisX:189,tickLen:13,tickX0:227,tickX1:781,off:[-16,18.5],mean1:mrsMean,sem1:mrsSem,pts1:mrsPoints,mean2:reuMean,sem2:reuSem,pts2:reuPoints,
  xL:171.5,xR:821,xTick:17,labR:148.5,labY:[1638,1525,1431,1316,1227],labSize:34,labEnd0:295,labStep:83.4,xlabY:1684,xlabSize:30});
T(511,1200,"Supernatant Ceramides",35);T(25.5,1400.7,"Lipid ng/ml",35,{rot:-90});
function legend2(x,y1,y2,w,h,tx,a,b,c,f,size,ty1,ty2){
  svg.append("rect").attr("x",x).attr("y",y1).attr("width",w).attr("height",h).attr("fill","#fff").attr("stroke","#111").attr("stroke-width",3.5);
  svg.append("rect").attr("x",x).attr("y",y2).attr("width",w).attr("height",h).attr("fill",f).attr("stroke","#111").attr("stroke-width",3.5);
  T(tx,ty1,a,size,{anchor:"start"}); rich(tx,ty2,b,c,size);
}
legend2(666,1248,1295,36,19,716,"MRS","MRS-","L.reuteri","#c5c7ca",28,1260.6,1306.6);
star(780.6,1476.6,"*",42);
letter(6,1227,"f");

scatterBars({y0:1628.8,yTop:1223.7,axisX:1183,tickLen:13,tickX0:1220.9,tickX1:1751.8,off:[-16.3,17.5],mean1:mrsMean,sem1:mrsSem,pts1:mrsPoints,mean2:bpsMean,sem2:bpsSem,pts2:bpsPoints,
  xL:1166,xR:1790.4,xTick:17,labR:1150,labY:[1632,1531.6,1432,1319.6,1234.6],labSize:32,labEnd0:1279,labStep:83.4,xlabY:1671,xlabSize:30});
T(1483,1211,"Supernatant Ceramides",34);T(1009,1413.7,"Lipid ng/ml",35,{rot:-90});
legend2(1553,1257,1302,33,18,1604.6,"MRS","MRS-","B.pseudolongum","#c5c7ca",27,1267,1312);
star(1574.4,1487.4,"*",42);
letter(1001,1216,"g");

// ========== h,i ==========
function fecalBars(c){
  const g=svg.append("g");
  const y=d3.scaleLinear().domain([0,c.max]).range([c.y0,c.yTop]);
  const x=d3.scalePoint().domain(cerFecal).range([c.tickX0,c.tickX1]);
  const yA=g.append("g").attr("transform",`translate(${c.axisX},0)`).call(d3.axisLeft(y).tickValues(c.ticks).tickSize(6).tickFormat(""));
  yA.selectAll("path,line").attr("stroke","#111").attr("stroke-width",3);
  cerFecal.forEach((n,i)=>{
    [[c.mean1,c.top1,c.off[0],"#fff"],[c.mean2,c.top2,c.off[1],"#b3b3b3"]].forEach(([m,t,o,f])=>{
      const bx=x(n)+o;
      g.append("line").attr("x1",bx).attr("x2",bx).attr("y1",y(m[i])).attr("y2",y(t[i])).attr("stroke","#111").attr("stroke-width",3.5);
      g.append("line").attr("x1",bx-3).attr("x2",bx+3).attr("y1",y(t[i])).attr("y2",y(t[i])).attr("stroke","#111").attr("stroke-width",4.5).attr("stroke-linecap","round");
      g.append("rect").attr("x",bx-4.2).attr("width",8.4).attr("y",y(m[i])).attr("height",Math.max(0,y(0)-y(m[i]))).attr("fill",f).attr("stroke","#111").attr("stroke-width",2.8);
    });
  });
  g.append("line").attr("x1",c.xL).attr("x2",c.xR).attr("y1",y(0)).attr("y2",y(0)).attr("stroke","#111").attr("stroke-width",4);
  const xA=g.append("g").attr("transform",`translate(0,${c.y0})`).call(d3.axisBottom(x).tickSize(9).tickFormat(""));
  xA.select("path").remove(); xA.selectAll("line").attr("stroke","#111").attr("stroke-width",2.5);
  c.ticks.forEach((v,i)=>T(c.labR,c.labY[i],v,c.labSize,{anchor:"end"}));
  cerFecal.forEach(n=>T(x(n)+c.xlabDx,c.xlabY,n,c.xlabSize,{anchor:"end",rot:-42.5,weight:"normal",stroke:.8,dy:0}));
  c.stars.forEach(s=>star(x(cerFecal[s[0]])+s[3]*c.off[1],y(s[2]),s[1],c.starSize));
}
fecalBars({max:20000,ticks:[0,5000,10000,15000,20000],y0:2295,yTop:1880.8,axisX:181.8,tickX0:209,tickX1:780,off:[-9.5,9.7],mean1:hPbsMean,top1:hPbsTop,mean2:hBpsMean,top2:hBpsTop,
  xL:177.6,xR:806,labR:163.6,labY:[2295,2192,2088,1986,1882],labSize:31,xlabDx:20,xlabY:2334,xlabSize:31,stars:hStars,starSize:32});
T(470,1877,"Fecal Ceramides",35);T(24,2088,"Lipid(ng/g)",35.5,{rot:-90});
legend2(235.5,1937,1985,37,20,286.7,"Abx-PBS","Abx-","B.pseudolongum","#b3b3b3",27.5,1947,1996);
letter(5,1905,"h");
fecalBars({max:40000,ticks:[0,10000,20000,30000,40000],y0:2297.5,yTop:1877,axisX:1191.3,tickX0:1215.5,tickX1:1795.9,off:[-9.1,10.8],mean1:iPbsMean,top1:iPbsTop,mean2:iReuMean,top2:iReuTop,
  xL:1184,xR:1821.8,labR:1168.4,labY:[2299,2193.5,2089,1984,1878.7],labSize:31,xlabDx:19,xlabY:2332,xlabSize:31,stars:iStars,starSize:32});
T(1491,1877,"Fecal Ceramides",35);T(1020.6,2088,"Lipid(ng/g)",35.5,{rot:-90});
legend2(1251,1940,1986,35,19,1307,"Abx-PBS","Abx-","L.reuteri","#b3b3b3",27.5,1948,1996.6);
letter(990,1906,"i");
</script></body></html>
